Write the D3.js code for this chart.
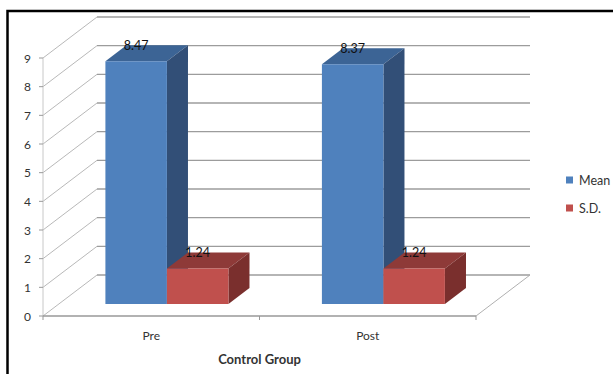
<!DOCTYPE html>
<html>
<head>
<meta charset="utf-8">
<script src="https://cdn.jsdelivr.net/npm/d3@7"></script>
<style>
  body { margin: 0; background: #fff; }
  svg { display: block; }
</style>
</head>
<body>
<svg id="chart" width="613" height="374"></svg>
<script>
// Data
const categories = ["Pre", "Post"];
const seriesNames = ["Mean", "S.D."];
const meanValues = [8.47, 8.37];
const sdValues = [1.24, 1.24];
const yTicks = [0, 1, 2, 3, 4, 5, 6, 7, 8, 9];
const axisTitle = "Control Group";

const seriesValues = [meanValues, sdValues];
const faceColors = [
  { front: "#4f81bd", top: "#3c6495", side: "#324f77" },
  { front: "#c0504d", top: "#8e3a38", side: "#7a2f2d" }
];

const svg = d3.select("#chart");
const font = "Lato, 'Open Sans', sans-serif";

// 3D projection: frontal plane + depth vector
const depthX = 54, depthY = -41;
const barDepth0 = 0.29, barDepth1 = 0.68;

const y = d3.scaleLinear().domain([0, 9]).range([316, 58]);
const x0 = d3.scaleBand().domain(categories).range([43, 476]);
const x1 = d3.scaleBand().domain(seriesNames).range([0, x0.bandwidth()]).paddingOuter(0.76);

const P = (x, v, d) => [x + depthX * d, y(v) + depthY * d];
const poly = pts => "M" + pts.map(p => p.join(",")).join("L") + "Z";
const line = (a, b) => "M" + a.join(",") + "L" + b.join(",");

const xL = x0.range()[0], xR = x0.range()[1];

// Frame
svg.append("path")
  .attr("d", "M7.5,380V11H620")
  .attr("fill", "none").attr("stroke", "#000").attr("stroke-width", 2.5);

// Back wall gridlines and side wall diagonals
const grid = svg.append("g");
yTicks.forEach(t => {
  grid.append("path").attr("d", line(P(xL, t, 1), P(xR, t, 1)))
    .attr("stroke", "#9c9c9c").attr("stroke-width", 1.3).attr("fill", "none");
  grid.append("path").attr("d", line(P(xL, t, 0), P(xL, t, 1)))
    .attr("stroke", "#b0b0b0").attr("stroke-width", 0.9).attr("fill", "none");
});

// Left axis line, floor outline
grid.append("path").attr("d", line(P(xL, 0, 0), P(xL, 9, 0)))
  .attr("stroke", "#c8c8c8").attr("stroke-width", 1).attr("fill", "none");
grid.append("path").attr("d", line(P(xL, 0, 0), P(xR, 0, 0)))
  .attr("stroke", "#999").attr("stroke-width", 1.3).attr("fill", "none");
grid.append("path").attr("d", line(P(xR, 0, 0), P(xR, 0, 1)))
  .attr("stroke", "#b0b0b0").attr("stroke-width", 1).attr("fill", "none");

// Category ticks on the floor front edge
[xL, ...categories.map(c => x0(c) + x0.bandwidth())].forEach(xv => {
  grid.append("path").attr("d", `M${xv},${y(0)}V${y(0) + 4}`)
    .attr("stroke", "#999").attr("stroke-width", 1);
});

// Value axis ticks + labels
yTicks.forEach(t => {
  grid.append("path").attr("d", `M${xL - 4},${y(t)}H${xL}`)
    .attr("stroke", "#999").attr("stroke-width", 1);
  svg.append("text").attr("x", 31).attr("y", y(t) + 4.5)
    .attr("text-anchor", "end").attr("font-family", font).attr("font-size", 12)
    .attr("fill", "#333").text(t);
});

// Bars
const bars = svg.append("g");
const labels = [];
categories.forEach((c, ci) => {
  seriesNames.forEach((s, si) => {
    const v = seriesValues[si][ci];
    const xa = x0(c) + x1(s), xb = xa + x1.bandwidth();
    const col = faceColors[si];
    // top face
    bars.append("path").attr("d", poly([P(xa, v, barDepth0), P(xb, v, barDepth0), P(xb, v, barDepth1), P(xa, v, barDepth1)]))
      .attr("fill", col.top);
    // right side face
    bars.append("path").attr("d", poly([P(xb, 0, barDepth0), P(xb, v, barDepth0), P(xb, v, barDepth1), P(xb, 0, barDepth1)]))
      .attr("fill", col.side);
    // front face
    bars.append("path").attr("d", poly([P(xa, 0, barDepth0), P(xb, 0, barDepth0), P(xb, v, barDepth0), P(xa, v, barDepth0)]))
      .attr("fill", col.front);
    const front = P((xa + xb) / 2, v, barDepth0);
    const back = P((xa + xb) / 2, v, barDepth1);
    labels.push({ x: front[0], y: back[1], text: v.toFixed(2) });
  });
});

// Data labels
svg.append("g").selectAll("text").data(labels).join("text")
  .attr("x", d => d.x).attr("y", d => d.y + 4.5)
  .attr("text-anchor", "middle").attr("font-family", font).attr("font-size", 12.5)
  .attr("fill", "#111").text(d => d.text);

// Category labels
categories.forEach(c => {
  svg.append("text").attr("x", x0(c) + x0.bandwidth() / 2).attr("y", 340)
    .attr("text-anchor", "middle").attr("font-family", font).attr("font-size", 12)
    .attr("fill", "#333").text(c);
});

// Axis title
svg.append("text").attr("x", xL + (xR - xL) / 2).attr("y", 364)
  .attr("text-anchor", "middle").attr("font-family", font).attr("font-size", 13)
  .attr("font-weight", "bold").attr("fill", "#333").text(axisTitle);

// Legend
seriesNames.forEach((s, i) => {
  const ly = 180 + i * 28;
  svg.append("rect").attr("x", 566).attr("y", ly - 3.5).attr("width", 7).attr("height", 7)
    .attr("fill", faceColors[i].front);
  svg.append("text").attr("x", 579).attr("y", ly + 4.5)
    .attr("font-family", font).attr("font-size", 12.5).attr("fill", "#333").text(s);
});
</script>
</body>
</html>
